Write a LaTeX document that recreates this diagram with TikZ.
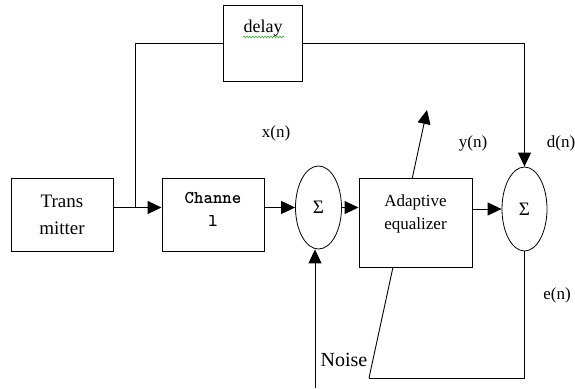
\documentclass[tikz,border=0pt]{standalone}
\usepackage{fontspec}
\setmainfont{Liberation Serif}
\usetikzlibrary{arrows.meta,shapes.geometric,decorations.pathmorphing}

\begin{document}
\begin{tikzpicture}[x=1pt,y=-1pt,>={Triangle[length=14pt,width=13pt]},
  blk/.style={draw,line width=1pt,fill=white,inner sep=0pt},
  sum/.style={draw,ellipse,fill=white,line width=0.8pt,inner sep=0pt,minimum width=46pt,minimum height=83pt,font=\fontsize{19}{19}\selectfont},
  lbl/.style={font=\fontsize{17}{19}\selectfont}]
 \useasboundingbox (0,0) rectangle (575,388);
 \coordinate (nz) at (369,378);
 \coordinate (ad) at (427,110);
 \coordinate (nsrc) at (315,388);
 \coordinate (j) at (135,208);
 \draw[line width=0.9pt,->] (nz) -- (ad);
 \node[blk,minimum width=102pt,minimum height=73pt,align=center,font=\fontsize{19}{27}\selectfont] (tx) at (62,214.5) {Trans\\mitter};
 \node[blk,minimum width=102pt,minimum height=73pt] (ch) at (213,214.5) {};
 \node[align=center,font=\ttfamily\bfseries\fontsize{18}{23}\selectfont] (chtxt) at ([yshift=5pt]ch.center) {Channe\\l};
 \node[sum] (s1) at (318.5,207.5) {Σ};
 \node[blk,minimum width=113pt,minimum height=89pt] (eq) at (415.5,222.5) {};
 \node[align=center,font=\fontsize{17}{23}\selectfont] (eqtxt) at ([yshift=9pt]eq.center) {Adaptive\\equalizer};
 \node[sum,minimum width=45pt,minimum height=84pt] (s2) at (524.5,209) {Σ};
 \node[blk,minimum width=79pt,minimum height=76pt] (dl) at (262.5,43) {};
 \node[font=\fontsize{18}{18}\selectfont] (dltxt) at (263,28) {delay};
 \draw[green!60!black,decorate,decoration={snake,amplitude=1pt,segment length=3pt}] (243,37) -- (285,37);
 \draw[line width=1pt,->] (tx.east |- s1) -- (ch.west |- s1);
 \draw[line width=1pt,->] (ch.east |- s1) -- (s1.west);
 \draw[line width=1pt,->] (s1.east) -- (eq.west |- s1);
 \draw[line width=1pt,->] (eq.east |- s2) -- (s2.west);
 \draw[line width=1pt] (dl.west) -| (j);
 \draw[line width=1pt,->] (dl.east) -| (s2.north);
 \draw[line width=1pt] (s2.south) |- (nz);
 \draw[line width=1pt,->] (nsrc) -- (nsrc |- s1.south);
 \node[lbl] (xn) at (276,133) {x(n)};
 \node[lbl] (yn) at (473,143) {y(n)};
 \node[lbl] (dn) at (561,143) {d(n)};
 \node[lbl] (en) at (557,295) {e(n)};
 \node[font=\fontsize{20}{20}\selectfont] (noise) at (344,360) {Noise};
\end{tikzpicture}
\end{document}
